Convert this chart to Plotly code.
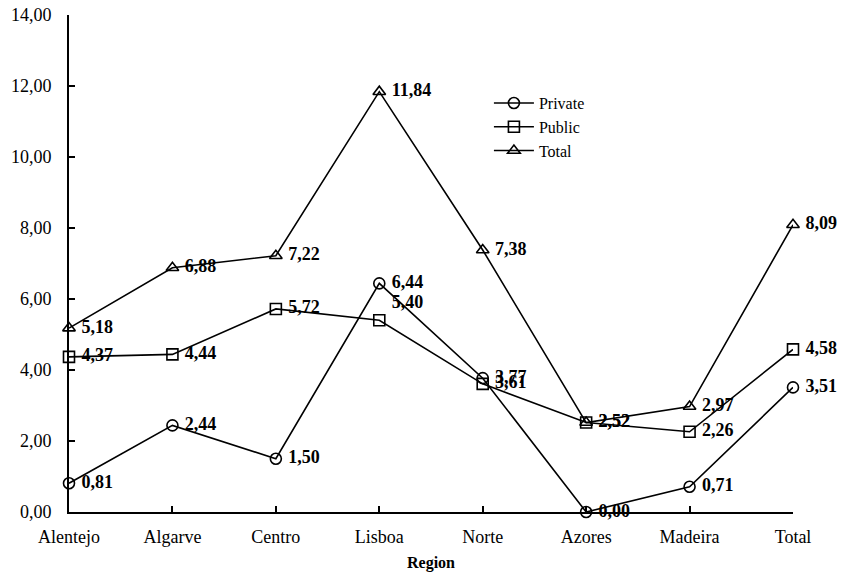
import plotly.graph_objects as go

regions = ["Alentejo", "Algarve", "Centro", "Lisboa", "Norte", "Azores", "Madeira", "Total"]
private = [0.81, 2.44, 1.50, 6.44, 3.77, 0.00, 0.71, 3.51]
public = [4.37, 4.44, 5.72, 5.40, 3.61, 2.52, 2.26, 4.58]
total = [5.18, 6.88, 7.22, 11.84, 7.38, 2.52, 2.97, 8.09]

y_ticks = [0, 2, 4, 6, 8, 10, 12, 14]

FONT = "Liberation Serif, Times New Roman, serif"
NBSP = "\u00a0"


def fmt(v):
    return f"{v:.2f}".replace(".", ",")


series = [
    ("Private", private, "circle-open"),
    ("Public", public, "square-open"),
    ("Total", total, "triangle-up-open"),
]

fig = go.Figure()
for name, vals, sym in series:
    positions = ["middle right"] * len(vals)
    if name == "Public":
        positions[3] = "top right"
    fig.add_trace(go.Scatter(
        x=regions,
        y=vals,
        name=name,
        mode="lines+markers+text",
        line=dict(color="black", width=1.6),
        marker=dict(symbol=sym, size=11, color="black", line=dict(color="black", width=1.6)),
        text=[f"{NBSP}<b>{fmt(v)}</b>" for v in vals],
        textposition=positions,
        textfont=dict(family=FONT, size=18, color="black"),
        cliponaxis=False,
    ))

fig.update_layout(
    width=843,
    height=574,
    margin=dict(l=69, r=50, t=15, b=62, autoexpand=False),
    paper_bgcolor="white",
    plot_bgcolor="white",
    font=dict(family=FONT, size=18, color="black"),
    showlegend=True,
    legend=dict(
        x=0.58, y=0.857, xanchor="left", yanchor="top",
        bgcolor="rgba(0,0,0,0)",
        font=dict(family=FONT, size=16, color="black"),
        tracegroupgap=0,
        itemwidth=40,
    ),
)

fig.update_xaxes(
    type="category",
    range=[0, len(regions) - 1],
    automargin=False,
    showline=True, linecolor="black", linewidth=1.6,
    ticks="inside", ticklen=6, tickcolor="black", tickwidth=1.6,
    showgrid=False, zeroline=False,
    tickfont=dict(family=FONT, size=18),
    ticklabelstandoff=8,
    title=dict(text="<b>Region</b>", font=dict(family=FONT, size=16), standoff=10),
)
fig.update_yaxes(
    range=[0, 14],
    automargin=False,
    tickvals=y_ticks,
    ticktext=[fmt(v) for v in y_ticks],
    showline=True, linecolor="black", linewidth=1.6,
    ticks="inside", ticklen=6, tickcolor="black", tickwidth=1.6,
    showgrid=False, zeroline=False,
    tickfont=dict(family=FONT, size=18),
    ticklabelstandoff=12,
)

fig.write_html("out.html")
